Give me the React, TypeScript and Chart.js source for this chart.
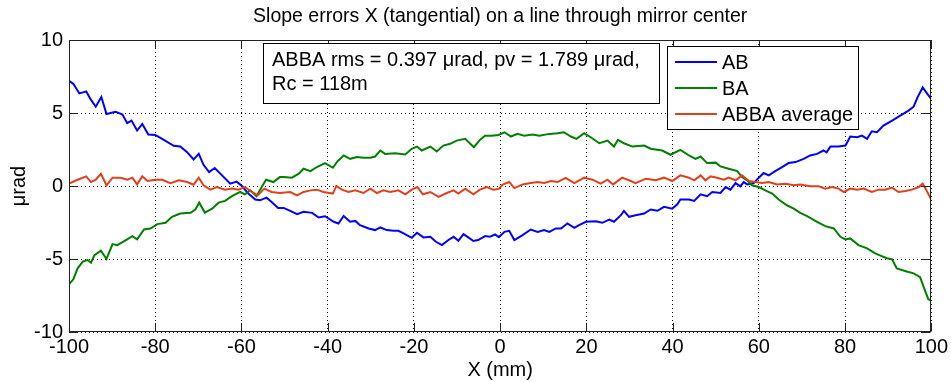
import React, { useEffect, useRef } from 'react';
import { Chart, registerables } from 'chart.js';

Chart.register(...registerables);

const TITLE = 'Slope errors X (tangential) on a line through mirror center';
const X_LABEL = 'X (mm)';
const Y_LABEL = 'μrad';
const SERIES_LABELS = ['AB', 'BA', 'ABBA average'];
const SERIES_COLORS = ['#0000ff', '#008000', '#e0401c'];
const INFO_LINES = ['ABBA rms = 0.397 μrad, pv = 1.789 μrad,', 'Rc = 118m'];
const X_MIN = -100;
const X_MAX = 100;
const X_STEP = 20;
const Y_MIN = -10;
const Y_MAX = 10;
const Y_STEP = 5;

const abX = [-100, -99, -97.6, -96, -95, -93.8, -92.5, -91.3, -89.2, -87.6, -86.5, -85.5, -84.2, -83, -81.6, -80, -78.4, -75.7, -74.2, -72.6, -71.1, -69.9, -68.8, -67.5, -66.2, -64.5, -62.6, -61.1, -59.9, -58.4, -56.8, -55.7, -54.2, -53, -51.5,
  -50.2, -48.7, -47.1, -45.6, -43.6, -42.1, -40.6, -38.6, -37.5, -36.3, -34.8, -33.6, -32.5, -30.5, -29, -27.8, -26.3, -24.7, -23.6, -22.4, -20.5, -19.3, -17.8, -16.2, -14.9, -13.5, -12, -10.8, -9.7, -8.5, -7.4, -6.2, -5.1, -3.5, -2.4, -1.2, -0.3,
  1, 2.1, 3.3, 5.2, 7.1, 8.7, 10.2, 11.4, 12.9, 14.1, 15.6, 17.2, 18.3, 19.9, 22.2, 23.7, 25.3, 26.4, 28, 28.7, 29.9, 31.4, 33.4, 34.9, 36.5, 38, 39.9, 41.1, 41.8, 43.8, 45, 46.5, 48,
  49.2, 51.1, 52.3, 53.4, 54.6, 55.7, 56.5, 57.3, 58.8, 60, 61.1, 62.3, 63.8, 65.4, 66.9, 68.5, 70.4, 71.9, 73.5, 75, 75.7, 76.6, 78.5, 80.1, 81.2, 82.8, 83.9, 85.1, 86.2, 87.4, 88.9, 90.9, 92.8, 94.7, 95.9, 96.8, 98, 99, 100];
const abY = [7.2, 7.0, 6.34, 6.48, 5.95, 5.43, 6.1, 4.93, 5.09, 4.89, 4.3, 4.48, 3.8, 4.25, 3.52, 3.5, 3.23, 2.75, 2.7, 2.32, 1.82, 2.2, 1.45, 0.95, 1.23, 0.73, 0.16, 0.3, 0, -0.52, -0.93, -0.98, -0.8, -1.09, -1.5,
  -1.5, -1.7, -1.93, -1.77, -1.84, -2.16, -2.07, -2.45, -2.57, -2.05, -2.45, -2.39, -2.68, -2.91, -3.02, -2.84, -3.02, -3.07, -3.07, -3.25, -3.55, -3.2, -3.52, -3.48, -3.82, -4.05, -3.7, -3.48, -3.75, -3.3, -3.52, -3.77, -3.7, -3.43, -3.48, -3.32, -3.5,
  -3.14, -3.07, -3.7, -3.36, -2.98, -3.14, -3.02, -3.14, -2.91, -2.91, -2.57, -2.86, -2.68, -2.45, -2.41, -2.52, -2.3, -2.45, -2.0, -1.7, -2.11, -2.0, -1.89, -1.61, -1.7, -1.43, -1.55, -1.25, -0.93, -0.93, -1.02, -0.57, -0.7,
  -0.41, -0.48, -0.07, -0.25, 0.2, -0.02, 0.27, 0.11, 0.2, 0.57, 0.89, 0.73, 1.02, 1.3, 1.57, 1.64, 1.86, 2.09, 2.2, 2.43, 2.3, 2.7, 2.7, 2.77, 3.39, 3.34, 3.45, 3.23, 3.75, 3.68, 4.14, 4.48, 4.82, 5.16, 5.43, 6.07, 6.75, 6.34, 5.95];

const baX = [-100, -99, -98, -96.8, -95.7, -94.9, -94.1, -92.6, -91.3, -89.9, -88.8, -86.8, -85.3, -84.2, -82.6, -81.1, -79.5, -77.6, -76.1, -74.2, -71.8, -70.7, -69.8, -68.5, -66.8, -65.3, -63.8, -62.2, -60.3, -59.2, -58, -56.5, -55.3, -54.3, -52.6, -51.1,
  -50.2, -48.3, -46.7, -45.6, -44, -42.5, -40.6, -38.8, -37.7, -36.3, -34.8, -33.2, -31.7, -30.1, -29, -27.8, -26.7, -24.4, -22, -20.5, -19.3, -18.2, -16.2, -14.7, -13.2, -11.6, -10.1, -8.1, -6.1, -4.7, -3.5, -2, -0.4,
  1, 2.5, 4, 5.6, 7.5, 9.1, 11.4, 13.3, 14.8, 16.4, 17.7, 19.5, 21, 23, 24.9, 26.4, 27.3, 28.7, 30.7, 33.4, 34.9, 37.6, 39.5, 41.8, 43.8, 45.3, 46.5, 48,
  50, 51.1, 53, 55, 56.1, 57.3, 58.4, 60, 61.5, 63.1, 64.6, 66.5, 68.1, 69.6, 71.2, 73.5, 75.4, 77.4, 78.9, 80.1, 81.2, 83.1, 85.1, 87, 88.5, 89.7, 90.9, 92, 94.3, 95.9, 97.4, 98.2, 99.3, 100];
const baY = [-6.73, -6.39, -5.64, -5.18, -5.07, -5.25, -4.73, -4.43, -5.0, -3.98, -4.05, -3.7, -3.43, -3.66, -2.98, -2.91, -2.61, -2.52, -2.11, -1.89, -1.84, -1.61, -1.14, -1.82, -1.55, -1.14, -1.02, -0.7, -0.41, -0.57, -0.3, -0.7, -0.07, 0.43, 0.27, 0.61,
  0.61, 0.57, 0.84, 1.18, 1.02, 1.3, 1.57, 1.25, 1.7, 2.09, 1.86, 1.98, 1.93, 1.93, 2.02, 2.43, 2.2, 2.25, 2.16, 2.55, 2.7, 2.43, 2.7, 2.36, 2.77, 2.89, 3.11, 3.23, 2.66, 3.16, 3.45, 3.45, 3.5,
  3.68, 3.39, 3.57, 3.45, 3.52, 3.45, 3.57, 3.61, 3.68, 3.39, 3.23, 3.61, 3.34, 2.93, 3.11, 2.7, 3.16, 2.93, 2.7, 2.77, 2.55, 2.43, 2.14, 2.48, 2.09, 1.86, 2.02, 1.57,
  1.6, 1.34, 1.18, 1.02, 0.61, 0.39, 0.05, -0.07, -0.3, -0.52, -0.93, -1.32, -1.55, -1.84, -2.07, -2.45, -2.75, -2.91, -3.48, -3.66, -3.59, -4.05, -4.27, -4.61, -4.8, -4.95, -5.02, -5.64, -5.86, -5.98, -6.25, -6.89, -7.75, -7.85];

const avgX = [-100, -98, -96, -94.9, -93.8, -92.6, -91.3, -89.9, -88, -86.5, -85.3, -84.2, -83, -81.8, -79.9, -78.4, -76.5, -74.5, -72.6, -71.1, -69.9, -68.8, -67.2, -65.7, -63.8, -62.2, -60.7, -59.2, -57.6, -56.2, -54.7, -53, -51.1,
  -48.7, -47.1, -45.6, -44, -42.5, -41, -38.8, -38, -36.7, -35.2, -33.6, -31.7, -30.1, -28.6, -27.1, -25.5, -23.6, -22, -20.5, -19.2, -17.9, -16.2, -14.3, -12.4, -10.8, -9.7, -8.1, -6.2, -4.7, -3.1, -1.6, -0.3, 0.6,
  2.1, 3.3, 5.2, 7.1, 8.7, 10.2, 11.8, 13.3, 15.2, 17.2, 19.5, 21.4, 23.3, 24.9, 26.2, 28.3, 30.3, 31.4, 33.8, 36.1, 38, 39.9, 41.8, 43.8, 45, 46.5, 47.6,
  48.8, 50.3, 51.9, 53, 54.6, 56.1, 57.7, 59.2, 60.8, 62.3, 64.2, 66.2, 68.1, 69.6, 71.9, 73.9, 75.4, 77, 78.5, 79.7, 81.2, 82.8, 84.3, 86.2, 87.8, 89.3, 90.9, 92.4, 94, 95.5, 97.1, 98, 98.8, 100];
const avgY = [0.16, 0.43, 0.66, 0.27, 0.43, 0.84, 0.05, 0.57, 0.57, 0.43, 0.57, 0.11, 0.66, 0.34, 0.43, 0.43, 0.2, 0.39, 0.27, 0.09, 0.57, 0.05, -0.25, -0.07, -0.25, -0.18, -0.25, -0.07, -0.41, -0.64, -0.18, -0.41, -0.48,
  -0.41, -0.64, -0.41, -0.3, -0.25, -0.41, -0.52, 0, -0.25, -0.41, -0.3, -0.48, -0.18, -0.48, -0.3, -0.41, -0.3, -0.57, -0.25, -0.07, -0.57, -0.41, -0.75, -0.48, -0.3, -0.52, -0.18, -0.57, -0.25, -0.07, -0.25, -0.2, 0.1,
  0.27, -0.14, 0.11, 0.2, 0.27, 0.2, 0.34, 0.27, 0.55, 0.2, 0.57, 0.43, 0.16, 0.43, 0.11, 0.57, 0.34, 0.2, 0.5, 0.39, 0.57, 0.34, 0.73, 0.57, 0.39, 0.73, 0.39,
  0.66, 0.57, 0.43, 0.57, 0.39, 0.73, 0.34, 0.27, 0.2, 0.27, 0.11, 0.16, 0.05, 0.11, -0.02, -0.02, -0.18, -0.07, -0.18, -0.41, -0.18, -0.25, -0.18, -0.41, -0.25, -0.25, -0.11, -0.41, -0.34, -0.25, -0.07, 0.16, -0.25, -0.95];

const FONT = "'Liberation Sans', Arial, Helvetica, sans-serif";

const toPoints = (xs: number[], ys: number[]) => xs.map((x, i) => ({ x, y: ys[i] }));

const framePlugin = {
  id: 'matlabFrame',
  afterDatasetsDraw(chart: any) {
    const { ctx, chartArea: a, scales } = chart;
    const L = Math.round(a.left) + 0.5;
    const R = Math.round(a.right) - 0.5;
    const T = Math.round(a.top) + 0.5;
    const B = Math.round(a.bottom) - 0.5;
    const tl = 8.6;
    ctx.save();
    ctx.strokeStyle = '#222';
    ctx.lineWidth = 1;
    ctx.setLineDash([]);
    ctx.strokeRect(L, T, R - L, B - T);
    ctx.beginPath();
    scales.x.ticks.forEach((t: any) => {
      const px = Math.round(scales.x.getPixelForValue(t.value)) + 0.5;
      ctx.moveTo(px, B); ctx.lineTo(px, B - tl);
      ctx.moveTo(px, T); ctx.lineTo(px, T + tl);
    });
    scales.y.ticks.forEach((t: any) => {
      const py = Math.round(scales.y.getPixelForValue(t.value)) + 0.5;
      ctx.moveTo(L, py); ctx.lineTo(L + tl, py);
      ctx.moveTo(R, py); ctx.lineTo(R - tl, py);
    });
    ctx.stroke();
    ctx.restore();
  },
  afterDraw(chart: any) {
    const { ctx } = chart;
    ctx.save();
    ctx.font = `20px ${FONT}`;
    ctx.textBaseline = 'middle';
    ctx.textAlign = 'left';
    // info text box
    ctx.fillStyle = '#fff';
    ctx.fillRect(263.5, 43.5, 396, 60);
    ctx.strokeStyle = '#000';
    ctx.lineWidth = 1;
    ctx.strokeRect(263.5, 43.5, 396, 60);
    ctx.fillStyle = '#000';
    INFO_LINES.forEach((line, i) => ctx.fillText(line, 272, 60 + i * 24));
    // legend
    ctx.fillStyle = '#fff';
    ctx.fillRect(667.5, 46.5, 191, 83);
    ctx.strokeRect(667.5, 46.5, 191, 83);
    chart.data.datasets.forEach((ds: any, i: number) => {
      const y = 62 + i * 26;
      ctx.strokeStyle = ds.borderColor;
      ctx.lineWidth = 2;
      ctx.beginPath();
      ctx.moveTo(675, y);
      ctx.lineTo(717, y);
      ctx.stroke();
      ctx.fillStyle = '#000';
      ctx.fillText(ds.label, 722, y + 1);
    });
    ctx.restore();
  },
};

export default function App() {
  const ref = useRef<HTMLCanvasElement | null>(null);
  useEffect(() => {
    document.body.style.margin = '0';
    const canvas = ref.current!;
    const series = [toPoints(abX, abY), toPoints(baX, baY), toPoints(avgX, avgY)];
    const chart = new Chart(canvas, {
      type: 'line',
      data: {
        datasets: series.map((data, i) => ({
          label: SERIES_LABELS[i],
          data,
          borderColor: SERIES_COLORS[i],
          backgroundColor: SERIES_COLORS[i],
          borderWidth: 2,
          pointRadius: 0,
          tension: 0,
          fill: false,
          order: 3 - i,
        })),
      },
      options: {
        responsive: false,
        animation: false,
        devicePixelRatio: 1,
        layout: { padding: { left: 0, right: 18, top: 0, bottom: 0 } },
        plugins: {
          legend: { display: false },
          tooltip: { enabled: false },
          title: {
            display: true,
            text: TITLE,
            fullSize: false,
            color: '#000',
            font: { size: 19.5, weight: 'normal', family: FONT, lineHeight: 1.2 },
            padding: { top: 5, bottom: 11.6 },
          },
        },
        scales: {
          x: {
            type: 'linear',
            min: X_MIN,
            max: X_MAX,
            ticks: { stepSize: X_STEP, color: '#000', font: { size: 20, family: FONT }, padding: 3, maxRotation: 0 },
            grid: { color: '#000', lineWidth: 1, drawTicks: false },
            border: { display: false, dash: [1, 3] },
            title: { display: true, text: X_LABEL, color: '#000', font: { size: 20, family: FONT, lineHeight: 1.2 }, padding: { top: 0, bottom: 0 } },
            afterFit: (s: any) => { s.height = 50; },
          },
          y: {
            type: 'linear',
            min: Y_MIN,
            max: Y_MAX,
            ticks: { stepSize: Y_STEP, color: '#000', font: { size: 20, family: FONT }, padding: 6 },
            grid: { color: '#000', lineWidth: 1, drawTicks: false },
            border: { display: false, dash: [1, 3] },
            title: { display: true, text: Y_LABEL, color: '#000', font: { size: 20, family: FONT, lineHeight: 1.2 }, padding: { top: 7, bottom: 0 } },
            afterFit: (s: any) => { s.width = 69; },
          },
        },
      },
      plugins: [framePlugin],
    });
    return () => chart.destroy();
  }, []);
  return (
    <div style={{ width: 951, height: 382, background: '#fff' }}>
      <canvas ref={ref} width={951} height={382} />
    </div>
  );
}
